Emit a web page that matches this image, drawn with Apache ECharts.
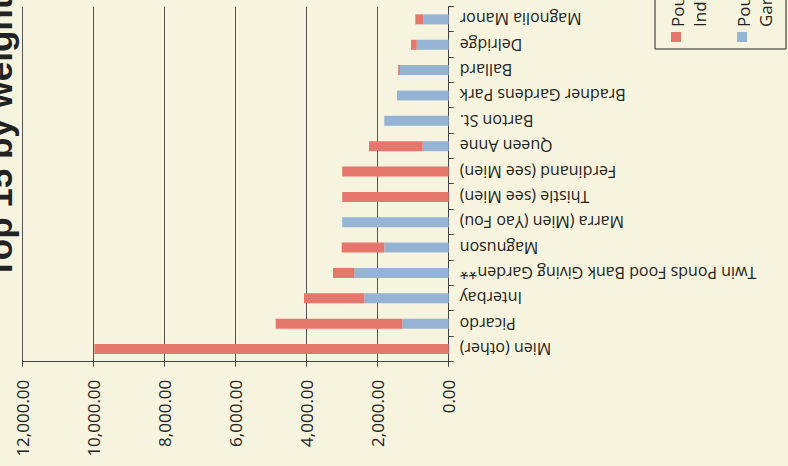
<!DOCTYPE html>
<html>
<head>
<meta charset="utf-8">
<script src="https://cdn.jsdelivr.net/npm/echarts@6/dist/echarts.min.js"></script>
<style>
  html, body { margin: 0; padding: 0; width: 788px; height: 466px; overflow: hidden; background: #f6f4de; }
  /* The reference is a column chart photographed turned a quarter turn counter-clockwise */
  #chart { position: absolute; left: 0; top: 0; width: 600px; height: 800px;
           transform-origin: 0 0; transform: translate(0px, 466px) rotate(-90deg); }
</style>
</head>
<body>
<div id="chart"></div>
<script>
const titleText = 'Top 15 by weight';
const categories = [
  'Mien (other)',
  'Picardo',
  'Interbay',
  'Twin Ponds Food Bank Giving Garden**',
  'Magnuson',
  'Marra (Mien (Yao Fou)',
  'Thistle (see Mien)',
  'Ferdinand (see Mien)',
  'Queen Anne',
  'Barton St.',
  'Bradner Gardens Park',
  'Ballard',
  'Delridge',
  'Magnolia Manor'
];
// blue segment (bottom of stack)
const gardenPounds =     [0, 1307, 2378, 2659, 1814, 3000, 0, 0, 732, 1814, 1456, 1372, 901, 715];
// red segment (top of stack)
const individualPounds = [9980, 3566, 1698, 600, 1200, 0, 3000, 3000, 1513, 0, 0, 50, 160, 226];
const seriesNames = ['Pounds from\nGarden Plots', 'Pounds from\nIndividual Plots'];
const valueTickLabels = ['0.00', '2,000.00', '4,000.00', '6,000.00', '8,000.00', '10,000.00', '12,000.00'];
const valueStep = 2000;

const RED = '#e5766b';
const BLUE = '#95b3d3';
const INK = '#222222';

const chart = echarts.init(document.getElementById('chart'), null, { renderer: 'svg' });
chart.setOption({
  backgroundColor: '#f6f4de',
  animation: false,
  title: {
    text: titleText,
    left: 182,
    top: -23,
    textStyle: { fontFamily: 'Liberation Sans', fontWeight: 'bold', fontSize: 35, color: INK }
  },
  legend: {
    data: [seriesNames[1], seriesNames[0]],
    orient: 'vertical',
    left: 417,
    top: 655,
    padding: [11, 10, 10, 7],
    borderColor: '#222',
    borderWidth: 1,
    itemWidth: 10,
    itemHeight: 34,
    itemGap: 22,
    icon: 'path://M0,0L10,0L10,10L0,10Z M0,34L0,34',
    textStyle: { fontFamily: 'Open Sans', fontSize: 17, lineHeight: 22, color: INK }
  },
  grid: { left: 104.3, right: 140.7, top: 22.7, bottom: 351.3, containLabel: false },
  xAxis: {
    type: 'category',
    data: categories,
    position: 'bottom',
    axisLine: { show: true, lineStyle: { color: '#444', width: 1 } },
    axisTick: { show: true, length: 5, alignWithLabel: false, interval: 0, lineStyle: { color: '#444' } },
    axisLabel: { rotate: 90, interval: 0, margin: 11, fontFamily: 'Open Sans', fontSize: 16, color: INK }
  },
  yAxis: {
    type: 'value',
    min: 0,
    max: 12000,
    interval: valueStep,
    axisLine: { show: true, lineStyle: { color: '#444', width: 1 } },
    axisTick: { show: true, length: 5, lineStyle: { color: '#444' } },
    splitLine: { show: true, lineStyle: { color: '#555', width: 1 } },
    axisLabel: {
      margin: 18, fontFamily: 'Open Sans', fontSize: 17, color: INK,
      formatter: function (v) { return valueTickLabels[Math.round(v / valueStep)]; }
    }
  },
  series: [
    { name: seriesNames[0], type: 'bar', stack: 'total', barWidth: 10, data: gardenPounds,
      itemStyle: { color: BLUE } },
    { name: seriesNames[1], type: 'bar', stack: 'total', barWidth: 10, data: individualPounds,
      itemStyle: { color: RED } }
  ]
});
</script>
</body>
</html>
